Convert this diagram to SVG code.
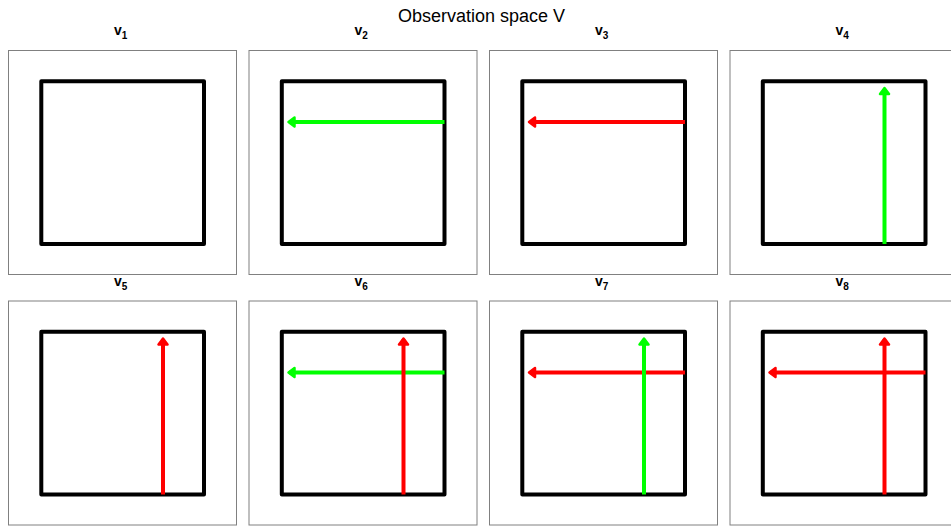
<svg xmlns="http://www.w3.org/2000/svg" width="951" height="526" viewBox="0 0 951 526">
<style>
.frame{fill:none;stroke:#808080;stroke-width:1}
.sq{fill:none;stroke:#000;stroke-width:4;stroke-linejoin:round}
.lbl{font-family:"Liberation Sans",Arial,sans-serif;font-weight:bold;font-size:14px;fill:#000}
.sub{font-size:10px}
.title{font-family:"Liberation Sans",Arial,sans-serif;font-size:18px;fill:#000}
.g{stroke:#00ff00;stroke-width:4;fill:none}
.r{stroke:#ff0000;stroke-width:4;fill:none}
</style>
<defs>
<marker id="hg" markerUnits="userSpaceOnUse" markerWidth="16" markerHeight="16" refX="12" refY="7" orient="auto" viewBox="0 0 16 14">
<path d="M13,7 L7,2.5 L7,11.5 Z" fill="#00ff00" stroke="#00ff00" stroke-width="2.5" stroke-linejoin="round"/>
</marker>
<marker id="hr" markerUnits="userSpaceOnUse" markerWidth="16" markerHeight="16" refX="12" refY="7" orient="auto" viewBox="0 0 16 14">
<path d="M13,7 L7,2.5 L7,11.5 Z" fill="#ff0000" stroke="#ff0000" stroke-width="2.5" stroke-linejoin="round"/>
</marker>
<g id="panel">
<rect class="frame" x="8.5" y="50.5" width="228" height="224"/>
<rect class="sq" x="41.3" y="81.3" width="162.7" height="162.7"/>
</g>
</defs>
<rect width="951" height="526" fill="#fff"/>
<text class="title" x="481.5" y="22" text-anchor="middle">Observation space V</text>

<g id="v1"><use href="#panel"/><text class="lbl" x="114" y="35">v<tspan class="sub" dy="4">1</tspan></text></g>
<g id="v2" transform="translate(240.5,0)"><use href="#panel"/><text class="lbl" x="114" y="35">v<tspan class="sub" dy="4">2</tspan></text></g>
<g id="v3" transform="translate(481,0)"><use href="#panel"/><text class="lbl" x="114" y="35">v<tspan class="sub" dy="4">3</tspan></text></g>
<g id="v4" transform="translate(721.5,0)"><use href="#panel"/><text class="lbl" x="114" y="35">v<tspan class="sub" dy="4">4</tspan></text></g>
<g id="v5" transform="translate(0,250.5)"><use href="#panel"/><text class="lbl" x="114" y="35">v<tspan class="sub" dy="4">5</tspan></text></g>
<g id="v6" transform="translate(240.5,250.5)"><use href="#panel"/><text class="lbl" x="114" y="35">v<tspan class="sub" dy="4">6</tspan></text></g>
<g id="v7" transform="translate(481,250.5)"><use href="#panel"/><text class="lbl" x="114" y="35">v<tspan class="sub" dy="4">7</tspan></text></g>
<g id="v8" transform="translate(721.5,250.5)"><use href="#panel"/><text class="lbl" x="114" y="35">v<tspan class="sub" dy="4">8</tspan></text></g>

<g id="connectors">
<g transform="translate(240.5,0)"><path class="g" d="M204,122 H49" marker-end="url(#hg)"/></g>
<g transform="translate(481,0)"><path class="r" d="M204,122 H49" marker-end="url(#hr)"/></g>
<g transform="translate(721.5,0)"><path class="g" d="M163,244 V89" marker-end="url(#hg)"/></g>
<g transform="translate(0,250.5)"><path class="r" d="M163,244 V89" marker-end="url(#hr)"/></g>
<g transform="translate(240.5,250.5)"><path class="g" d="M204,122 H49" marker-end="url(#hg)"/><path class="r" d="M163,244 V89" marker-end="url(#hr)"/></g>
<g transform="translate(481,250.5)"><path class="r" d="M204,122 H49" marker-end="url(#hr)"/><path class="g" d="M163,244 V89" marker-end="url(#hg)"/></g>
<g transform="translate(721.5,250.5)"><path class="r" d="M204,122 H49" marker-end="url(#hr)"/><path class="r" d="M163,244 V89" marker-end="url(#hr)"/></g>
</g>
</svg>
